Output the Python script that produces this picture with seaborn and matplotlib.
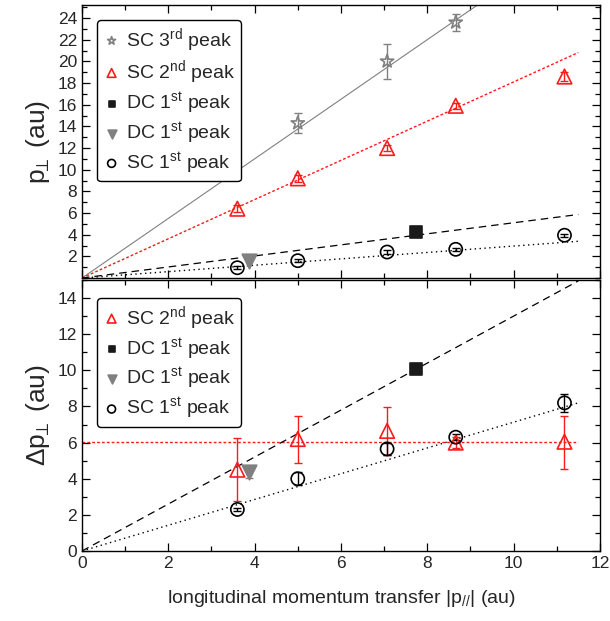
import numpy as np
import pandas as pd
import matplotlib
matplotlib.use("Agg")
import matplotlib.pyplot as plt
from matplotlib.ticker import MultipleLocator
import seaborn as sns

sns.set_theme(style="ticks")
plt.rcParams['font.family'] = ['Liberation Sans', 'DejaVu Sans']
plt.rcParams['mathtext.fontset'] = 'custom'
plt.rcParams['mathtext.rm'] = 'Liberation Sans'
plt.rcParams['mathtext.it'] = 'Liberation Sans'

# ---------------- data ----------------
x_sc = [3.6, 5.0, 7.07, 8.66, 11.18]
x_sc3 = [5.0, 7.07, 8.66]
x_dc_sq = [7.75]
x_dc_tri = [3.87]

# top panel: p_perp
top_sc3 = [14.3, 20.0, 23.6]
top_sc3_err = [0.9, 1.6, 0.8]
top_sc2 = [6.4, 9.2, 12.0, 15.9, 18.6]
top_sc2_err = [0.3, 0.3, 0.3, 0.3, 0.4]
top_dc_sq = [4.25]
top_dc_tri = [1.6]
top_sc1 = [0.95, 1.6, 2.4, 2.65, 3.95]
top_sc1_err = [0.15, 0.15, 0.15, 0.15, 0.15]
top_slopes = {"sc3": 2.75, "sc2": 1.81, "dc": 0.51, "sc1": 0.295}

# bottom panel: delta p_perp
bot_sc2 = [4.5, 6.2, 6.65, 6.0, 6.05]
bot_sc2_lo = [1.75, 1.35, 1.35, 0.3, 1.5]
bot_sc2_hi = [1.75, 1.3, 1.3, 0.3, 1.4]
bot_dc_sq = [10.1]
bot_dc_tri = [4.35]
bot_dc_tri_err = [0.3]
bot_sc1 = [2.3, 4.0, 5.65, 6.3, 8.2]
bot_sc1_err = [0.1, 0.35, 0.35, 0.15, 0.5]
bot_sc2_level = 6.03
bot_slopes = {"dc": 1.30, "sc1": 0.713}

x_fit_end = 11.5

RED = "#ff1a1a"
GREY = "#808080"

fig = plt.figure(figsize=(6.10, 6.21), dpi=100)
ax1 = fig.add_axes([0.1344, 0.5523, 0.849, 0.4396])
ax2 = fig.add_axes([0.1344, 0.1127, 0.849, 0.4364])

def fit_line(ax, slope, color, ls, lw, xmax=x_fit_end, const=None):
    xs = np.array([0.0, xmax])
    ys = slope * xs if const is None else np.array([const, const])
    df = pd.DataFrame({"x": xs, "y": ys})
    sns.lineplot(data=df, x="x", y="y", ax=ax, color=color, linestyle=ls,
                 linewidth=lw, legend=False, zorder=1)

def pts(ax, xs, ys, marker, face, edge, size, label, zorder=3):
    df = pd.DataFrame({"x": xs, "y": ys})
    sns.scatterplot(data=df, x="x", y="y", ax=ax, marker=marker, s=size,
                    facecolor=face, edgecolor=edge, linewidth=1.2,
                    label=label, zorder=zorder)

def ebar(ax, xs, ys, err, color):
    ax.errorbar(xs, ys, yerr=err, fmt='none', ecolor=color, elinewidth=1.0,
                capsize=3, capthick=1.0, zorder=2)

# ---- top panel ----
fit_line(ax1, top_slopes["sc3"], GREY, '-', 0.8, xmax=10)
fit_line(ax1, top_slopes["sc2"], RED, (0, (2, 1.5)), 1.0)
fit_line(ax1, top_slopes["dc"], "black", (0, (6, 4)), 0.9)
fit_line(ax1, top_slopes["sc1"], "black", (0, (1, 2.5)), 1.0)

ebar(ax1, x_sc3, top_sc3, top_sc3_err, GREY)
ebar(ax1, x_sc, top_sc2, top_sc2_err, RED)
ebar(ax1, x_sc, top_sc1, top_sc1_err, "black")

pts(ax1, x_sc3, top_sc3, '*', 'none', GREY, 100, r'SC 3$^{\mathrm{rd}}$ peak')
pts(ax1, x_sc, top_sc2, '^', 'none', RED, 110, r'SC 2$^{\mathrm{nd}}$ peak')
pts(ax1, x_dc_sq, top_dc_sq, 's', '#1a1a1a', '#1a1a1a', 70, r'DC 1$^{\mathrm{st}}$ peak')
pts(ax1, x_dc_tri, top_dc_tri, 'v', GREY, GREY, 110, r'DC 1$^{\mathrm{st}}$ peak')
pts(ax1, x_sc, top_sc1, 'o', 'none', 'black', 90, r'SC 1$^{\mathrm{st}}$ peak')

ax1.set_xlim(0, 12)
ax1.set_ylim(0, 25.2)
ax1.set_ylabel(r'p$_{\!\!\perp}$ (au)', fontsize=19)
ax1.set_xlabel('')
ax1.tick_params(labelbottom=False)

# ---- bottom panel ----
fit_line(ax2, 0, RED, (0, (2, 1.5)), 1.0, const=bot_sc2_level)
fit_line(ax2, bot_slopes["dc"], "black", (0, (6, 4)), 0.9)
fit_line(ax2, bot_slopes["sc1"], "black", (0, (1, 2.5)), 1.0)

ax2.errorbar(x_sc, bot_sc2, yerr=[bot_sc2_lo, bot_sc2_hi], fmt='none', ecolor=RED,
             elinewidth=1.0, capsize=3, capthick=1.0, zorder=2)
ebar(ax2, x_dc_tri, bot_dc_tri, bot_dc_tri_err, GREY)
ebar(ax2, x_sc, bot_sc1, bot_sc1_err, "black")

pts(ax2, x_sc, bot_sc2, '^', 'none', RED, 110, r'SC 2$^{\mathrm{nd}}$ peak')
pts(ax2, x_dc_sq, bot_dc_sq, 's', '#1a1a1a', '#1a1a1a', 70, r'DC 1$^{\mathrm{st}}$ peak')
pts(ax2, x_dc_tri, bot_dc_tri, 'v', GREY, GREY, 110, r'DC 1$^{\mathrm{st}}$ peak')
pts(ax2, x_sc, bot_sc1, 'o', 'none', 'black', 90, r'SC 1$^{\mathrm{st}}$ peak')

ax2.set_xlim(0, 12)
ax2.set_ylim(0, 15)
ax2.set_ylabel(r'$\Delta\mathrm{p}_{\!\!\perp}$ (au)', fontsize=19)
ax2.set_xlabel(r'longitudinal momentum transfer $|$p$_{//}|$ (au)', fontsize=14, labelpad=12)

for ax, anchor in ((ax1, (0.029, 0.945)), (ax2, (0.029, 0.934))):
    ax.xaxis.set_major_locator(MultipleLocator(2))
    ax.xaxis.set_minor_locator(MultipleLocator(1))
    ax.yaxis.set_major_locator(MultipleLocator(2))
    ax.yaxis.set_minor_locator(MultipleLocator(1))
    ax.tick_params(which='both', direction='in', top=True, right=True,
                   labelsize=12.5, color='black', width=0.9)
    ax.tick_params(which='major', length=6)
    ax.tick_params(which='minor', length=3.5)
    for sp in ax.spines.values():
        sp.set_visible(True)
        sp.set_color('black')
        sp.set_linewidth(1.0)
    leg = ax.legend(loc='upper left', bbox_to_anchor=anchor, borderaxespad=0,
                    fontsize=14, frameon=True, fancybox=True, edgecolor='black',
                    framealpha=1, handletextpad=0.3, handlelength=0.9,
                    borderpad=0.3, labelspacing=0.22, markerscale=0.6)
    leg.get_frame().set_linewidth(1.0)

ax1.set_yticks(np.arange(2, 25, 2))
ax2.set_yticks(np.arange(0, 15, 2))

fig.savefig("out.png", dpi=100)
